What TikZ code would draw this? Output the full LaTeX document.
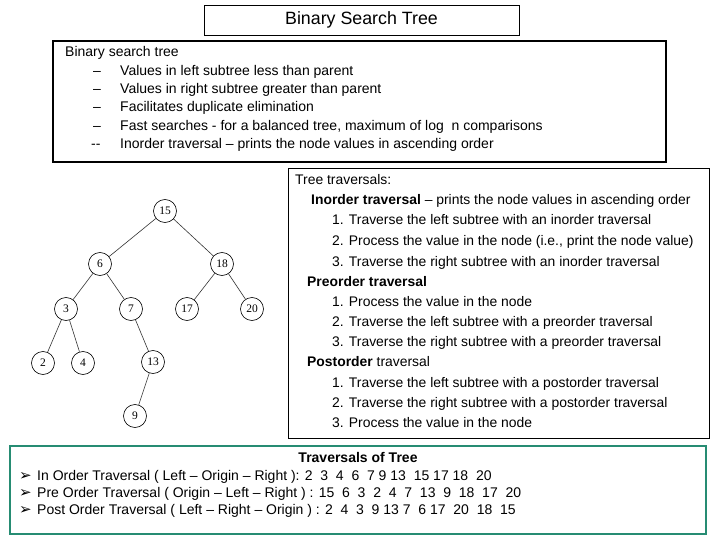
\documentclass[tikz,border=0pt]{standalone}
\usepackage{fontspec}
\setmainfont{Liberation Sans}
\newfontfamily\treefont{Liberation Serif}
\newfontfamily\symfont{DejaVu Sans}
\definecolor{teal2}{RGB}{38,140,115}
\begin{document}
\begin{tikzpicture}[x=1pt,y=-1pt,
  txt/.style={anchor=base west,inner sep=0pt,font=\fontsize{14}{16}\selectfont},
  ttxt/.style={anchor=base west,inner sep=0pt,font=\fontsize{13.9}{16}\selectfont},
  btxt/.style={anchor=base west,inner sep=0pt,font=\fontsize{14}{16}\selectfont},
  bul/.style={anchor=base west,inner sep=0pt,font=\symfont\bfseries\fontsize{15}{16}\selectfont},
  tnode/.style={draw,circle,minimum size=23pt,inner sep=0pt,line width=0.6pt,font=\treefont\fontsize{11.5}{12}\selectfont},
  tedge/.style={line width=0.6pt,draw=black!80}]
\useasboundingbox (0,0) rectangle (720,540);
\fill[white] (0,0) rectangle (720,540);
% title
\node[draw,line width=0.8pt,minimum width=315pt,minimum height=30pt,inner sep=0pt,font=\fontsize{17.8}{20}\selectfont] (title) at (361.5,20) {Binary Search Tree};
% box 2
\draw[line width=2.5pt,fill=white] (53,41) rectangle (666,162);
\node[txt] (b0) at (65,57) {Binary search tree};
\node[txt] (d1) at (93,76) {--};
\node[txt] (b1) at (120,76) {Values in left subtree less than parent};
\node[txt] (d2) at (93,94) {--};
\node[txt] (b2) at (120,94) {Values in right subtree greater than parent};
\node[txt] (d3) at (93,112) {--};
\node[txt] (b3) at (120,112) {Facilitates duplicate elimination};
\node[txt] (d4) at (93,131) {--};
\node[txt] (b4) at (120,131) {Fast searches - for a balanced tree, maximum of log\ \ n comparisons};
\node[txt] (d5) at (91,149) {-{}-};
\node[txt] (b5) at (120,149) {Inorder traversal -- prints the node values in ascending order};
% traversals box
\draw[line width=0.8pt] (288,168) rectangle (709,438);
\node[ttxt] (t0) at (295,185) {Tree traversals:};
\node[ttxt] (t1) at (311,205) {\textbf{Inorder traversal} -- prints the node values in ascending order};
\node[ttxt] (t2) at (332,225) {1. Traverse the left subtree with an inorder traversal};
\node[ttxt] (t3) at (332,245) {2. Process the value in the node (i.e., print the node value)};
\node[ttxt] (t4) at (332,266) {3. Traverse the right subtree with an inorder traversal};
\node[ttxt] (t5) at (307,286) {\textbf{Preorder traversal}};
\node[ttxt] (t6) at (332,306) {1. Process the value in the node};
\node[ttxt] (t7) at (332,326) {2. Traverse the left subtree with a preorder traversal};
\node[ttxt] (t8) at (332,346) {3. Traverse the right subtree with a preorder traversal};
\node[ttxt] (t9) at (307,366) {\textbf{Postorder} traversal};
\node[ttxt] (t10) at (332,387) {1. Traverse the left subtree with a postorder traversal};
\node[ttxt] (t11) at (332,407) {2. Traverse the right subtree with a postorder traversal};
\node[ttxt] (t12) at (332,427) {3. Process the value in the node};
% bottom box
\draw[line width=2.5pt,draw=teal2] (10,446) rectangle (706,534);
\node[anchor=base,inner sep=0pt,font=\bfseries\fontsize{14}{16}\selectfont] (bt) at (358,462) {Traversals of Tree};
\node[bul] (a1) at (19,480) {➢};
\node[btxt] (l1) at (37,480) {In Order Traversal ( Left -- Origin -- Right ): 2\ \ 3\ \ 4\ \ 6\ \ 7 9 13\ \ 15 17 18\ \ 20};
\node[bul] (a2) at (19,497) {➢};
\node[btxt] (l2) at (37,497) {Pre Order Traversal ( Origin -- Left -- Right ) : 15\ \ 6\ \ 3\ \ 2\ \ 4\ \ 7\ \ 13\ \ 9\ \ 18\ \ 17\ \ 20};
\node[bul] (a3) at (19,514) {➢};
\node[btxt] (l3) at (37,514) {Post Order Traversal ( Left -- Right -- Origin ) : 2\ \ 4\ \ 3\ \ 9 13 7\ \ 6 17\ \ 20\ \ 18\ \ 15};
% tree
\node[tnode] (n15) at (165,211) {15};
\node[tnode] (n6) at (100,264) {6};
\node[tnode] (n18) at (222,264) {18};
\node[tnode] (n3) at (66,309) {3};
\node[tnode] (n7) at (131,309) {7};
\node[tnode] (n17) at (187,309) {17};
\node[tnode] (n20) at (252,309) {20};
\node[tnode] (n2) at (43,363) {2};
\node[tnode] (n4) at (83,363) {4};
\node[tnode] (n13) at (153,362) {13};
\node[tnode] (n9) at (135,416) {9};
\draw[tedge] (n15) -- (n6);
\draw[tedge] (n15) -- (n18);
\draw[tedge] (n6) -- (n3);
\draw[tedge] (n6) -- (n7);
\draw[tedge] (n18) -- (n17);
\draw[tedge] (n18) -- (n20);
\draw[tedge] (n3) -- (n2);
\draw[tedge] (n3) -- (n4);
\draw[tedge] (n7) -- (n13);
\draw[tedge] (n13) -- (n9);
\end{tikzpicture}
\end{document}
